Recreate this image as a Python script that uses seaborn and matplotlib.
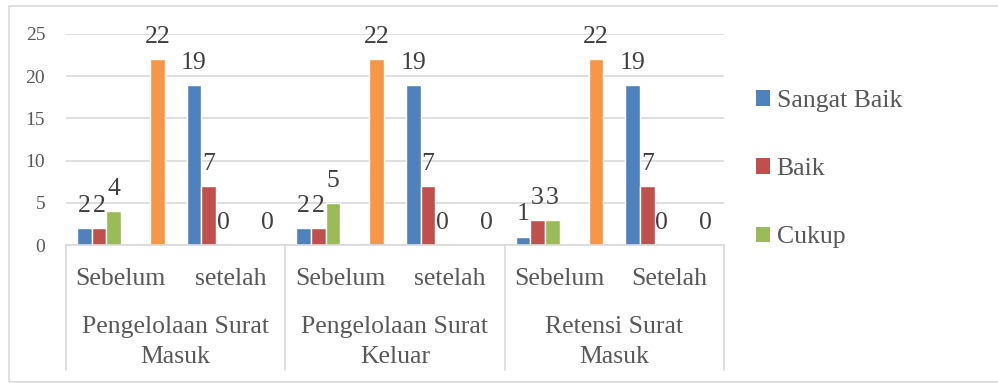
import numpy as np
import pandas as pd
import matplotlib
matplotlib.use("Agg")
import matplotlib.pyplot as plt
import matplotlib.transforms as mtrans
from matplotlib.patches import Patch, Rectangle
import seaborn as sns

# data
kategori = ["Sebelum", "setelah", "Sebelum", "setelah", "Sebelum", "Setelah"]
kelompok = ["Pengelolaan Surat\nMasuk", "Pengelolaan Surat\nKeluar", "Retensi Surat\nMasuk"]
seri = ["Sangat Baik", "Baik", "Cukup", "Kurang", "Sangat Kurang", "Seri 6"]
sangat_baik = [2, 19, 2, 19, 1, 19]
baik = [2, 7, 2, 7, 3, 7]
cukup = [4, 0, 5, 0, 3, 0]
seri6 = [22, 0, 22, 0, 22, 0]
warna = ["#4F81BD", "#C0504D", "#9BBB59", "#8064A2", "#4BACC6", "#F79646"]

pos = list(range(len(kategori)))
rows = []
for nama, vals in [("Sangat Baik", sangat_baik), ("Baik", baik),
                   ("Cukup", cukup), ("Seri 6", seri6)]:
    for p, v in zip(pos, vals):
        rows.append({"pos": p, "seri": nama, "nilai": v})
df = pd.DataFrame(rows)

sns.set_style("white")
plt.rcParams["font.family"] = ["Liberation Serif", "DejaVu Serif"]

W, H = 998, 383
fig = plt.figure(figsize=(W / 100, H / 100), dpi=100)
x0, x1, ytop, ybot = 66, 724, 34, 245
ax = fig.add_axes([x0 / W, 1 - ybot / H, (x1 - x0) / W, (ybot - ytop) / H])

sns.barplot(data=df, x="pos", y="nilai", hue="seri", hue_order=seri,
            order=pos, palette=warna, width=0.8, legend=False,
            saturation=1, errorbar=None, ax=ax)

for c in ax.containers:
    if len(c) > 0:
        ax.bar_label(c, fmt="%g", padding=8, fontsize=18.5, color="#404040",
                     clip_on=False)

ax.set_xlim(-0.5, len(pos) - 0.5)
ax.set_ylim(0, 25)
ax.set_yticks(range(0, 26, 5))
ax.tick_params(axis="y", length=0, pad=15, labelsize=14, labelcolor="#595959")
ax.yaxis.grid(True, color="#D9D9D9", linewidth=1.2)
ax.set_axisbelow(True)
ax.set_xlabel("")
ax.set_ylabel("")
ax.set_xticks([])
for s in ["left", "right", "top"]:
    ax.spines[s].set_visible(False)
ax.spines["bottom"].set_color("#D9D9D9")
ax.spines["bottom"].set_linewidth(1.2)

tr = mtrans.blended_transform_factory(ax.transData, ax.transAxes)
hpx = ybot - ytop
for p, lab in zip(pos, kategori):
    ax.text(p, -(285 - ybot) / hpx, lab, transform=tr, ha="center",
            va="baseline", fontsize=18.5, color="#595959")
for i, lab in enumerate(kelompok):
    for j, line in enumerate(lab.split("\n")):
        yb = [333, 363][j]
        ax.text(2 * i + 0.5, -(yb - ybot) / hpx, line, transform=tr,
                ha="center", va="baseline", fontsize=18.5, color="#595959")
for b in [-0.5, 1.5, 3.5, 5.5]:
    ax.plot([b, b], [0, -(370 - ybot) / hpx], transform=tr, color="#D9D9D9",
            linewidth=1.2, clip_on=False)

handles = [Patch(facecolor=warna[i], edgecolor="none") for i in range(3)]
fig.legend(handles, seri[:3], loc="upper left",
           bbox_to_anchor=(756 / W, 1 - 90 / H), frameon=False, fontsize=18.5,
           labelcolor="#595959", handlelength=0.55, handleheight=0.55,
           handletextpad=0.25, labelspacing=1.8, borderpad=0, borderaxespad=0)

fig.patches.append(Rectangle((8.5 / W, 1 - 382 / H), 1.0, 376 / H,
                             transform=fig.transFigure, fill=False,
                             edgecolor="#D9D9D9", linewidth=1.2))

fig.savefig("out.png", dpi=100)
